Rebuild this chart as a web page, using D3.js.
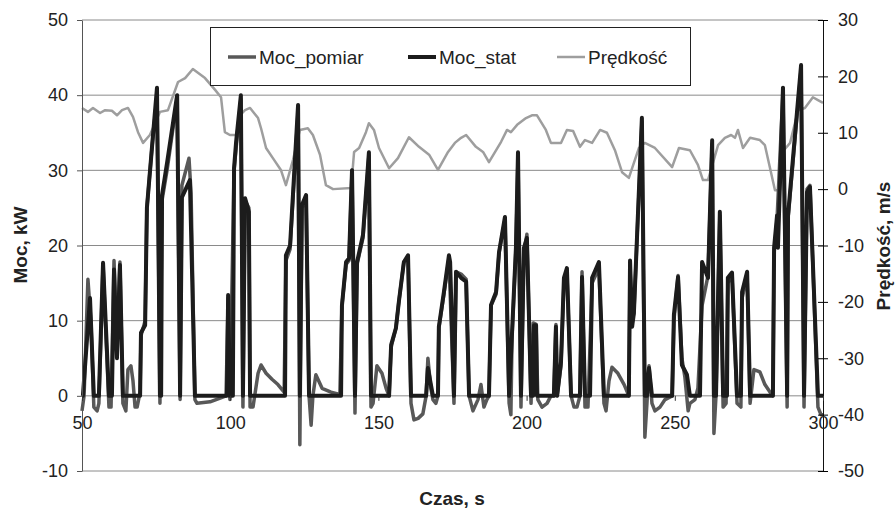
<!DOCTYPE html>
<html>
<head>
<meta charset="utf-8">
<script src="https://cdn.jsdelivr.net/npm/d3@7/dist/d3.min.js"></script>
<style>
  body { margin: 0; background: #fff; }
  svg { display: block; font-family: "Liberation Sans", Arial, sans-serif; }
</style>
</head>
<body>
<svg id="chart" width="895" height="509"></svg>
<script>
// czas [s], wartosc
var mocStat = [
  [50,0],[50.3,0],[52.7,13],[54,0],[55.7,0],[57.1,17.7],[59.1,0],[60.1,0],[60.8,16.8],[61.8,5],[62.8,17.4],[63.8,0],
  [69.6,0],[69.9,8.4],[71.3,9.4],[71.9,25],[73.6,33],[75.3,41],[76.3,0],[76.7,0],[77,26.7],[78.7,31],[82.1,40],[83.1,0],
  [83.7,26.4],[86.4,28.7],[88.1,0],[98.9,0],[99.3,13.4],[99.9,0],[100.9,0],[101.3,30.3],[102,33.8],[103.6,40],[104.3,0],
  [105,26.3],[106.3,24.5],[106.7,0],[118.5,0],[118.8,18.7],[120.2,20],[122.9,38.7],[123.5,0],[124.2,25.4],[125.6,26.7],
  [126.6,0],[137.4,0],[137.7,12],[139.1,17.8],[140.1,18.3],[141.1,30],[142.1,0],[142.8,17.8],[144.8,21.4],[146.8,32.4],
  [147.5,0],[153.6,0],[154.3,6.8],[155.9,9],[156.9,12.5],[158.6,17.8],[160,18.7],[161,0],[166.1,0],[166.7,3.7],[168.4,0],
  [170.1,0],[170.4,9.2],[172.1,13.8],[173.8,18.7],[174.2,17.8],[175.5,0],[176.2,16.5],[177.9,15.7],[179.6,15.2],[180.6,0],
  [187.3,0],[188,12.1],[189.7,13.8],[190.7,19.1],[192.7,23.8],[194.1,0],[195.1,8.5],[196.4,19.7],[197.1,32.4],[198.1,0],
  [199.1,19.7],[200.1,21],[201.5,0],[202.2,0],[202.5,9.4],[203.2,9.4],[203.5,0],[209.2,0],[209.9,9.2],[210.3,0],
  [211.6,4.5],[212.6,15.7],[213.6,17],[215,0],[218,0],[218.7,15.8],[219.7,0],[221.4,0],[222.1,15.7],[224.4,17.8],[226.1,0],
  [234.5,0],[234.9,18],[235.6,9.2],[236.2,11],[238.9,37],[239.9,0],[240.6,0],[241.3,3.7],[242.3,0],[249.1,0],[249.7,10.8],
  [251.1,15.8],[252.4,4.1],[254.1,2.8],[255.1,0],[258.5,0],[259.2,17.8],[261.2,15.7],[262.6,34],[263.2,0],[263.9,0],
  [265.2,24.5],[266.3,0],[267.6,0],[267.9,15.7],[269.3,16.4],[271,0],[272.3,0],[272.7,13.8],[274.4,16.5],[275.4,0],
  [283.1,0],[283.5,19.7],[284.5,24],[284.8,19.7],[286.5,41],[287.9,0],[288.2,24],[292.6,44],[293.6,0],[294.6,27.1],
  [295.6,27.8],[298.3,0],[300,0]
];

var mocPomiar = [
  [50,-2],[50.7,0],[52,15.5],[53,10],[54,-1.5],[55.1,-2],[55.7,-1],[57.1,17.5],[58.1,8],[59.1,-1.5],[59.8,-1.5],[60.8,18],
  [61.8,6],[62.8,17.8],[63.8,-1],[64.8,-2],[65.5,3.5],[66.5,4],[67.2,2],[67.9,-1.5],[68.6,-1.5],[69.6,0.5],[69.9,8],
  [71.3,10],[71.9,25],[73.6,33],[75.3,40],[76.3,-1],[77,26],[78.7,30],[82.1,39.5],[83.1,-0.5],[83.7,28],[86.1,31.6],
  [86.8,27],[88.1,-0.5],[88.8,-1],[93.2,-0.8],[96.6,-0.3],[98.6,0],[99.3,13],[99.9,-0.5],[101.3,30],[102,33],[103.6,39.5],
  [104.3,-1.5],[105,26],[106.3,25],[106.7,-1.5],[107.7,-1.5],[109.4,3],[110.4,4.1],[112.1,3],[114.1,2.2],[116.1,1.5],
  [118.2,0.5],[118.8,18],[120.2,19.5],[122.9,38],[123.5,-6.5],[124.2,25],[125.6,26],[126.6,0],[127.3,-3.9],[127.9,0],
  [128.9,2.8],[131,1],[134,0.5],[137,0.2],[137.7,12],[139.1,17.5],[140.1,18],[141.1,30],[142.1,-2.3],[142.8,17.5],
  [144.8,21],[146.8,32],[147.5,-1.5],[148.2,-1],[149.5,4],[151.2,3],[152.6,1],[153.6,0],[154.3,6.5],[155.9,9],[156.9,12.5],
  [158.6,17.8],[160,18.5],[161,-1],[162,-3.2],[163.4,-3],[165,-2.4],[166.1,0],[166.7,5],[167.7,1],[168.4,-0.5],[169.4,-1],
  [170.1,0],[170.4,9],[172.1,13.5],[173.8,18.3],[175.5,-1],[176.2,16.5],[177.9,16.2],[179.6,15.5],[180.6,0],[181.9,-2],
  [183.6,-0.5],[184.6,1.5],[185.6,-1.5],[186.6,-0.5],[187.3,0],[188,12],[189.7,13.5],[190.7,19],[192.7,23.5],[194.1,-1],
  [194.7,-2.5],[195.1,8],[196.4,19.5],[197.1,32],[198.1,-1.5],[199.1,19],[200.1,21.5],[201.5,-1],[202.2,9.7],[203.2,9.5],
  [203.8,-0.5],[205.2,-1.5],[206.9,-1],[208.2,0],[209.2,0],[209.9,9.5],[210.3,0],[211.6,4],[212.6,15],[213.6,16.5],[215,0],
  [216,-1.5],[217,-1.5],[218,0],[218.7,16.5],[219.7,-1.5],[220.7,-1.5],[222.1,15],[224.4,17],[226.1,-1],[226.8,-2],
  [227.8,2],[228.8,3.8],[230.8,3],[232.9,1.5],[234.5,0],[234.9,17],[235.6,10],[236.2,11],[238.9,36.5],[239.9,-5.5],
  [240.6,-1],[241.3,4],[242.3,-1],[243.3,-2],[245,-1.5],[246.7,-0.5],[249.1,0],[249.7,10],[251.1,16],[252.4,5],[253.4,2.5],
  [254.5,-2],[255.1,-1],[256.8,-0.5],[257.8,1],[259.2,12],[261.2,16],[262.6,33.5],[263.2,-5],[263.9,0],[265.2,24],
  [266.3,-1.5],[267.3,-1],[267.9,15],[269.3,16],[271,-1],[272.3,-1.5],[272.7,13],[274.4,16],[275.4,-1],[276.7,3.5],
  [278.7,3.2],[280.4,1.5],[282.1,0.5],[283.1,0],[283.5,19],[284.5,23.5],[286.5,40.5],[287.9,-1.5],[288.2,23.5],
  [292.6,43.5],[293.6,-1.5],[294.6,27.5],[295.6,28],[298.3,-1.5],[299.3,-2.5],[300,-2.5]
];

var predkosc = [
  [50,14.4],[52,13.7],[53.7,14.4],[56.1,13.5],[57.8,14],[60.1,13.9],[61.8,13.1],[63.5,14],[65.5,14.4],[67.2,12.8],
  [68.9,10.1],[70.6,8.2],[72.9,9.6],[76.3,13.7],[79,14],[82.4,19],[84.8,19.7],[87.4,21.3],[91.5,19.7],[94.9,17.6],
  [96.9,16.3],[98.2,10.1],[99.9,9.6],[102,9.6],[103.3,13.1],[105,14],[106.7,14.4],[109.4,12.6],[110.4,10.8],[112.1,7.3],
  [114.4,5.5],[117.1,3.4],[118.8,0.7],[121.2,5.2],[123.5,10.5],[126.2,10.8],[127.9,9.6],[130.3,6.1],[132.3,0.7],
  [134.7,0],[140.8,0.2],[141.8,6.6],[143.5,7.3],[145.8,10.1],[146.8,11.7],[148.5,10.5],[150.2,7.3],[153.6,3.7],
  [156.6,5.5],[160.3,9.2],[163.7,7.5],[167.1,6.1],[170.1,3.4],[173.5,6.6],[175.8,8.2],[177.9,9.1],[179.6,9.6],
  [182.9,7.5],[185.3,6.6],[187.3,4.8],[191.4,8.4],[193.4,10.5],[194.7,10.1],[196.8,11.4],[199.8,12.6],[201.8,13.1],
  [203.5,13.1],[206.5,10.5],[208.2,8.2],[211.6,8.2],[213.6,10.5],[215.7,10.3],[218,7.5],[219.7,8.7],[222.1,8.2],
  [224.8,10.5],[227.1,10],[229.8,6.9],[232.2,3],[234.5,2],[237.9,7.3],[239.9,8.2],[243.3,7.3],[249.1,3.9],[251.4,7.3],
  [255.1,6.9],[257.8,4.3],[259.5,1.6],[261.2,1.6],[264.6,7.8],[266.9,9.1],[269,9.6],[270.3,9.1],[271.3,10.5],[273,7.3],
  [275.4,9.1],[278.7,8.7],[280.4,7.8],[283.8,-0.2],[285.5,-0.2],[286.8,6.9],[288.9,8.2],[291.6,14],[293.9,14.4],
  [296.6,16.3],[298.3,15.8],[300,15.3]
];

var xTicks = [50, 100, 150, 200, 250, 300];
var yTicks = [-10, 0, 10, 20, 30, 40, 50];
var y2Ticks = [-50, -40, -30, -20, -10, 0, 10, 20, 30];
var seriesNames = ['Moc_pomiar', 'Moc_stat', 'Prędkość'];

var svg = d3.select('#chart');

var x = d3.scaleLinear().domain([50, 300]).range([82, 823]);
var y = d3.scaleLinear().domain([-10, 50]).range([471, 20]);
var y2 = d3.scaleLinear().domain([-50, 30]).range([471, 20]);
var fmt = function(d) { return String(d); };

// siatka
svg.append('g')
  .selectAll('line')
  .data(yTicks)
  .enter().append('line')
    .attr('x1', x(50))
    .attr('x2', x(300))
    .attr('y1', function(d) { return y(d); })
    .attr('y2', function(d) { return y(d); })
    .style('stroke', '#8a8a8a')
    .style('stroke-width', 1);

var lineMoc = d3.line()
  .x(function(d) { return x(d[0]); })
  .y(function(d) { return y(d[1]); });

var lineV = d3.line()
  .x(function(d) { return x(d[0]); })
  .y(function(d) { return y2(d[1]); });

svg.append('path')
  .datum(predkosc)
  .attr('d', lineV)
  .style('fill', 'none')
  .style('stroke', '#9e9e9e')
  .style('stroke-width', 2.5)
  .style('stroke-linejoin', 'round');

svg.append('path')
  .datum(mocPomiar)
  .attr('d', lineMoc)
  .style('fill', 'none')
  .style('stroke', '#585858')
  .style('stroke-width', 3.5)
  .style('stroke-linejoin', 'round');

svg.append('path')
  .datum(mocStat)
  .attr('d', lineMoc)
  .style('fill', 'none')
  .style('stroke', '#1c1c1c')
  .style('stroke-width', 4)
  .style('stroke-linejoin', 'round');

// osie
var axisL = svg.append('g')
  .attr('transform', 'translate(' + x(50) + ',0)')
  .call(d3.axisLeft(y).tickValues(yTicks).tickFormat(fmt).tickSize(5).tickPadding(9).tickSizeOuter(0));

var axisR = svg.append('g')
  .attr('transform', 'translate(' + x(300) + ',0)')
  .call(d3.axisRight(y2).tickValues(y2Ticks).tickFormat(fmt).tickSize(5).tickPadding(10).tickSizeOuter(0));
axisR.selectAll('.tick line').attr('x1', -5).attr('x2', 5);

var axisB = svg.append('g')
  .attr('transform', 'translate(0,' + y(0) + ')')
  .call(d3.axisBottom(x).tickValues(xTicks).tickFormat(fmt).tickSize(5).tickPadding(15));
axisB.select('.domain').remove();

svg.selectAll('.tick text')
  .style('font-size', '18px')
  .style('font-family', '"Liberation Sans", Arial, sans-serif')
  .style('fill', '#222');
axisL.select('.domain').style('stroke', '#555');
axisL.selectAll('.tick line').style('stroke', '#555');
axisB.selectAll('.tick line').style('stroke', '#333');
axisR.select('.domain').style('stroke', '#111');

// tytuly osi
svg.append('text')
  .attr('transform', 'translate(20,245) rotate(-90)')
  .attr('dy', '0.35em')
  .attr('text-anchor', 'middle')
  .style('font-weight', 'bold')
  .style('font-size', '19px')
  .style('fill', '#222')
  .text('Moc, kW');

svg.append('text')
  .attr('transform', 'translate(883,246) rotate(-90)')
  .attr('dy', '0.35em')
  .attr('text-anchor', 'middle')
  .style('font-weight', 'bold')
  .style('font-size', '19px')
  .style('fill', '#222')
  .text('Prędkość, m/s');

svg.append('text')
  .attr('x', 452)
  .attr('y', 505)
  .attr('text-anchor', 'middle')
  .style('font-weight', 'bold')
  .style('font-size', '19px')
  .style('fill', '#222')
  .text('Czas, s');

// legenda
var legend = svg.append('g');
legend.append('rect')
  .attr('x', 210.5)
  .attr('y', 27.5)
  .attr('width', 480)
  .attr('height', 58)
  .style('fill', '#fff')
  .style('stroke', '#222')
  .style('stroke-width', 1);

var legendColors = ['#585858', '#1c1c1c', '#9e9e9e'];
var legendWidths = [3.5, 4, 2.5];
var legendX = [228, 408, 557];

var item = legend.selectAll('g.item')
  .data(seriesNames)
  .enter().append('g')
    .attr('class', 'item')
    .attr('transform', function(d, i) { return 'translate(' + legendX[i] + ',57)'; });

item.append('line')
  .attr('x1', 0)
  .attr('x2', 28)
  .style('stroke', function(d, i) { return legendColors[i]; })
  .style('stroke-width', function(d, i) { return legendWidths[i]; });

item.append('text')
  .attr('x', 31)
  .attr('y', 7)
  .style('font-size', '19px')
  .style('fill', '#222')
  .text(function(d) { return d; });
</script>
</body>
</html>
